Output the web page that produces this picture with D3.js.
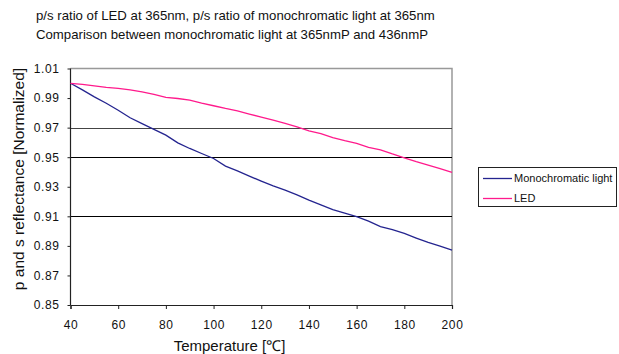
<!DOCTYPE html>
<html lang="en">
<head>
  <meta charset="UTF-8" />
  <title>p/s ratio comparison</title>
  <script src="https://d3js.org/d3.v7.min.js"></script>
  <style>
    body { margin: 0; background: #fff; }
    svg { display: block; font-family: "Liberation Sans", Arial, sans-serif; }
  </style>
</head>
<body>
  <svg id="chart" width="619" height="354"></svg>

  <script>
    // Temperatures (°C), 5 degree steps
    const temps = d3.range(40, 201, 5);

    const monoValues = [
      1.0000, 0.9955, 0.9908, 0.9865, 0.9818, 0.9767, 0.9727, 0.9688, 0.9649, 0.9597,
      0.9559, 0.9525, 0.9491, 0.9440, 0.9408, 0.9372, 0.9338, 0.9306, 0.9277, 0.9245,
      0.9210, 0.9178, 0.9145, 0.9122, 0.9098, 0.9068, 0.9030, 0.9010, 0.8984, 0.8953,
      0.8924, 0.8898, 0.8872
    ];

    const ledValues = [
      1.0000, 0.9992, 0.9983, 0.9972, 0.9965, 0.9955, 0.9942, 0.9925, 0.9905, 0.9897,
      0.9886, 0.9866, 0.9848, 0.9830, 0.9814, 0.9792, 0.9771, 0.9750, 0.9728, 0.9705,
      0.9678, 0.9660, 0.9633, 0.9612, 0.9593, 0.9566, 0.9550, 0.9522, 0.9496, 0.9470,
      0.9446, 0.9422, 0.9397
    ];

    const xTicks = [40, 60, 80, 100, 120, 140, 160, 180, 200];
    const yTicks = [0.85, 0.87, 0.89, 0.91, 0.93, 0.95, 0.97, 0.99, 1.01];
    const gridValues = [0.97, 0.95, 0.91];

    const titleLines = [
      "p/s ratio of LED at 365nm, p/s ratio of monochromatic light at 365nm",
      "Comparison between monochromatic light at 365nmP and 436nmP"
    ];

    const series = [
      { name: "Monochromatic light", values: monoValues, color: "#24248f" },
      { name: "LED", values: ledValues, color: "#ff1a8c" }
    ];

    const svg = d3.select("#chart");
    const plot = { left: 70.5, right: 452, top: 68.5, bottom: 305 };

    const x = d3.scaleLinear().domain([40, 200]).range([plot.left, plot.right]);
    const y = d3.scaleLinear().domain([0.85, 1.01]).range([plot.bottom, plot.top]);

    // title
    svg.selectAll(".title")
      .data(titleLines)
      .join("text")
      .attr("x", 36)
      .attr("y", (d, i) => 20 + i * 19)
      .attr("font-size", 13.2)
      .attr("fill", "#111")
      .text(d => d);

    // frame: top + right border in grey
    svg.append("path")
      .attr("d", `M${plot.left},${y(1.01)}H${x(200)}V${y(0.85)}`)
      .attr("fill", "none")
      .attr("stroke", "#999")
      .attr("stroke-width", 1.5);

    // gridlines
    svg.selectAll(".grid")
      .data(gridValues)
      .join("line")
      .attr("x1", plot.left)
      .attr("x2", x(200))
      .attr("y1", d => Math.round(y(d)) + 0.5)
      .attr("y2", d => Math.round(y(d)) + 0.5)
      .attr("stroke", d => d === 0.97 ? "#444" : "#000")
      .attr("stroke-width", 1.2);

    // axes
    const yAxis = svg.append("g")
      .attr("transform", `translate(${plot.left},0)`)
      .call(d3.axisLeft(y).tickValues(yTicks).tickFormat(d3.format(".2f")).tickSize(3).tickPadding(8));
    const xAxis = svg.append("g")
      .attr("transform", `translate(0,${plot.bottom})`)
      .call(d3.axisBottom(x).tickValues(xTicks).tickSize(4).tickPadding(11));

    [xAxis, yAxis].forEach(g => {
      g.select(".domain").attr("stroke", "#222").attr("stroke-width", 1.2);
      g.selectAll(".tick line").attr("stroke", "#222");
      g.selectAll(".tick text")
        .attr("font-size", 12)
        .attr("fill", "#111")
        .attr("letter-spacing", 0.6);
    });
    yAxis.select(".domain").attr("d", `M0,${plot.top}V${plot.bottom}`);

    // axis titles
    svg.append("text")
      .attr("transform", `translate(24,179) rotate(-90)`)
      .attr("text-anchor", "middle")
      .attr("font-size", 15.5)
      .attr("fill", "#111")
      .text("p and s reflectance [Normalized]");

    svg.append("text")
      .attr("x", 229.5)
      .attr("y", 350.5)
      .attr("text-anchor", "middle")
      .attr("font-size", 15)
      .attr("fill", "#111")
      .text("Temperature [\u2103]");

    // lines
    const line = d3.line()
      .x((d, i) => x(temps[i]))
      .y(d => y(d));

    svg.selectAll(".series")
      .data(series)
      .join("path")
      .attr("fill", "none")
      .attr("stroke", d => d.color)
      .attr("stroke-width", 1.3)
      .attr("d", d => line(d.values));

    // legend
    const legend = svg.append("g").attr("transform", "translate(478,167)");
    legend.append("rect")
      .attr("x", 0.5).attr("y", 0.5)
      .attr("width", 138).attr("height", 39)
      .attr("fill", "#fff")
      .attr("stroke", "#222")
      .attr("stroke-width", 1);

    const item = legend.selectAll(".item")
      .data(series)
      .join("g")
      .attr("transform", (d, i) => `translate(0,${11.5 + i * 20})`);
    item.append("line")
      .attr("x1", 5).attr("x2", 34)
      .attr("stroke", d => d.color)
      .attr("stroke-width", 1.3);
    item.append("text")
      .attr("x", 36)
      .attr("dy", "0.35em")
      .attr("font-size", 11)
      .attr("fill", "#111")
      .text(d => d.name);
  </script>
</body>
</html>
